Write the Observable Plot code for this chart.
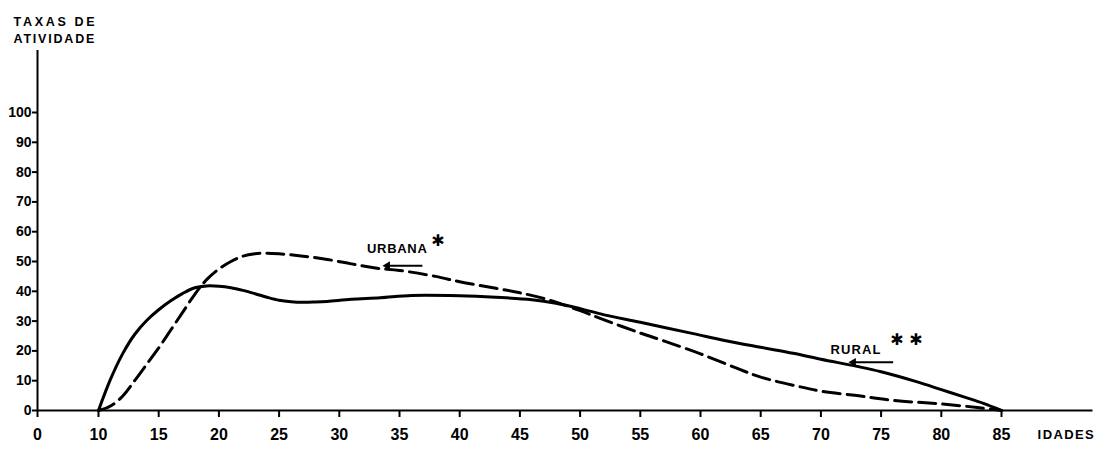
<!DOCTYPE html>
<html>
<head>
<meta charset="utf-8">
<script src="https://cdn.jsdelivr.net/npm/d3@7"></script>
<script src="https://cdn.jsdelivr.net/npm/@observablehq/plot@0.6"></script>
<style>
  body { margin: 0; background: #fff; }
</style>
</head>
<body>
<div id="chart"></div>
<script>
// Tick values
const ageTicks = [0, 10, 15, 20, 25, 30, 35, 40, 45, 50, 55, 60, 65, 70, 75, 80, 85];
const rateTicks = [0, 10, 20, 30, 40, 50, 60, 70, 80, 90, 100];

// Rural (solid line)
const ruralAge  = [10, 11, 12, 13, 14, 15, 16, 17, 18, 19, 20, 21, 22, 23, 24, 25, 26, 27, 28, 29, 31, 33.4, 36, 40, 43, 46, 48, 50, 52, 55, 59.4, 62, 65, 67.7, 70, 73, 75, 78, 80, 82, 83.5, 85];
const ruralRate = [0, 10.5, 19, 25.5, 30.2, 33.8, 36.8, 39.3, 41.2, 41.8, 41.7, 41.2, 40.3, 39.2, 38, 37, 36.5, 36.3, 36.4, 36.6, 37.3, 37.8, 38.6, 38.5, 38, 37.2, 36, 34.2, 32.1, 29.6, 25.8, 23.5, 21.2, 19.2, 17.2, 14.8, 13, 9.6, 7, 4.4, 2.4, 0];

// Urbana (dashed line)
const urbanaAge  = [10, 11, 12, 13, 14, 15, 16, 17, 18, 19, 20, 21, 22, 23, 24, 25, 27, 29, 31, 33, 35, 38, 40, 43, 45, 47.5, 50, 52, 55, 57, 60, 63, 65, 68, 70, 73, 76, 80, 83, 85];
const urbanaRate = [0, 1.5, 4.8, 10, 15.5, 21, 27, 33, 39, 44, 47.5, 50, 51.8, 52.6, 52.8, 52.6, 51.8, 50.7, 49.2, 47.8, 47, 45, 43.2, 41, 39.5, 37, 33.5, 30.4, 26, 23.3, 19, 14.2, 11.2, 8.2, 6.5, 5, 3.4, 2.2, 1, 0];

// Axis titles and curve labels
const yTitle = "TAXAS DE\nATIVIDADE";
const xTitle = "IDADES";
const labelNames = ["URBANA", "RURAL"];
const labelAge   = [32.3, 70.8];
const labelRate  = [54.2, 20.4];
const starText   = ["✱", "✱ ✱"];
const starAge    = [38.2, 77.1];
const starRate   = [56.8, 23.8];
const arrowFromAge = [36.9, 76.0];
const arrowToAge   = [34.0, 72.7];
const arrowRate    = [48.6, 16.2];

const rural = ruralAge.map((a, i) => ({idade: a, taxa: ruralRate[i]}));
const urbana = urbanaAge.map((a, i) => ({idade: a, taxa: urbanaRate[i]}));
const labels = labelNames.map((t, i) => ({t, x: labelAge[i], y: labelRate[i]}));
const stars = starText.map((t, i) => ({t, x: starAge[i], y: starRate[i]}));
const arrows = arrowFromAge.map((a, i) => ({x1: a, x2: arrowToAge[i], y: arrowRate[i]}));

const sans = "'Liberation Sans', 'DejaVu Sans', sans-serif";

const chart = Plot.plot({
  width: 1097,
  height: 454,
  marginLeft: 37,
  marginRight: 4,
  marginTop: 50,
  marginBottom: 44,
  style: {
    background: "#fff",
    color: "#000",
    fontFamily: sans,
    fontWeight: "bold",
    fontSize: "14px"
  },
  x: {type: "linear", domain: [0, 10, 85], range: [37, 98, 1001]},
  y: {domain: [0, 100], range: [410, 112]},
  marks: [
    Plot.ruleY([0], {x1: 0, x2: 92.6, stroke: "#000", strokeWidth: 2}),
    Plot.ruleX([0], {y1: 0, y2: 120.8, stroke: "#000", strokeWidth: 2}),
    Plot.axisX(ageTicks, {tickSize: 7, tickPadding: 11, strokeWidth: 2, label: null, fontFamily: sans, fontWeight: "bold", fontSize: 16}),
    Plot.axisY(rateTicks, {tickSize: 5, tickPadding: 1, strokeWidth: 2, label: null, fontFamily: sans, fontWeight: "bold", fontSize: 14}),
    Plot.line(urbana, {x: "idade", y: "taxa", stroke: "#000", strokeWidth: 3, strokeDasharray: "17,7", curve: "catmull-rom"}),
    Plot.line(rural, {x: "idade", y: "taxa", stroke: "#000", strokeWidth: 3, curve: "catmull-rom"}),
    Plot.text(labels, {x: "x", y: "y", text: "t", textAnchor: "start", lineAnchor: "middle", fontFamily: sans, fontSize: 13, fontWeight: "bold", fill: "#000"}),
    Plot.text(stars, {x: "x", y: "y", text: "t", textAnchor: "middle", lineAnchor: "middle", fontFamily: "'DejaVu Sans', sans-serif", fontSize: 16, fill: "#000"}),
    Plot.link(arrows, {x1: "x1", x2: "x2", y1: "y", y2: "y", stroke: "#000", strokeWidth: 2}),
    Plot.dot(arrows, {x: "x2", y: "y", symbol: "triangle", rotate: -90, r: 3.2, fill: "#000", stroke: "none"}),
    Plot.text([yTitle], {frameAnchor: "top-left", dx: -24, dy: -37, textAnchor: "start", lineAnchor: "top", lineHeight: 1.36, fontFamily: sans, fontSize: 12.5, fontWeight: "bold", fill: "#000"}),
    Plot.text([xTitle], {x: 88.0, y: -8.05, textAnchor: "start", lineAnchor: "middle", fontFamily: sans, fontSize: 13, fontWeight: "bold", fill: "#000"})
  ]
});

// letter spacing for the hand-lettered labels
const spacing = {"URBANA": "0.7px", "RURAL": "1.1px", "IDADES": "1.4px", "TAXAS DE": "2.7px", "ATIVIDADE": "1.8px"};
d3.select(chart).selectAll("text, tspan").each(function () {
  const own = Array.from(this.childNodes).filter(n => n.nodeType === 3).map(n => n.textContent).join("");
  if (spacing[own]) d3.select(this).style("letter-spacing", spacing[own]);
});
document.getElementById("chart").appendChild(chart);
</script>
</body>
</html>
